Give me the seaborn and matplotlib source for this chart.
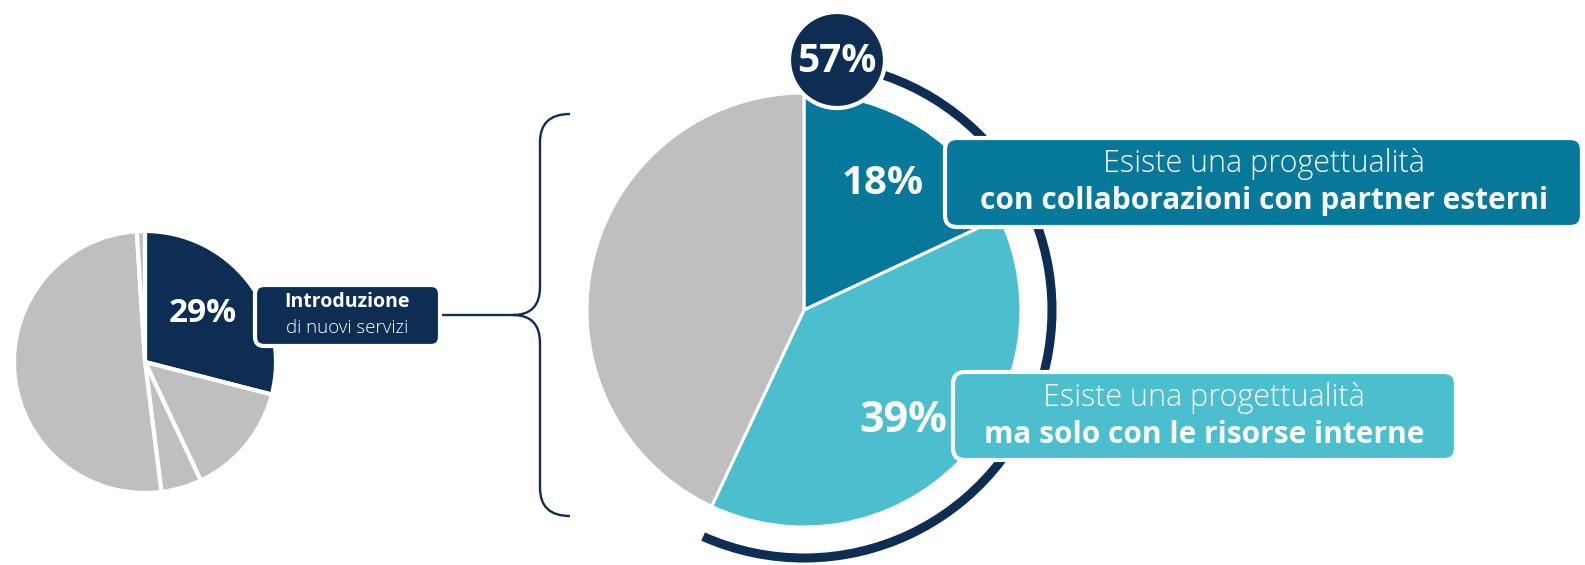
import matplotlib
matplotlib.use("Agg")
import matplotlib.pyplot as plt
import seaborn as sns
from matplotlib.patches import FancyBboxPatch, Circle, Arc, PathPatch
from matplotlib.path import Path

sns.set_theme(style="white")
plt.rcParams['font.family'] = ['Open Sans', 'DejaVu Sans']

# ---- data ----
left_labels = ["Introduzione di nuovi servizi", "Altro A", "Altro B", "Altro C", "Altro D"]
left_values = [29, 14, 5, 51, 1]
right_labels = ["Con partner esterni", "Solo risorse interne", "Altro"]
right_values = [18, 39, 43]
total_label = "57%"
left_pct = "29%"
right_pcts = ["18%", "39%"]
left_box_text = ["Introduzione", "di nuovi servizi"]
box1_text = ["Esiste una progettualità", "con collaborazioni con partner esterni"]
box2_text = ["Esiste una progettualità", "ma solo con le risorse interne"]

NAVY = "#0e2d52"
TEAL = "#06799a"
LIGHT = "#4bbfcd"
GRAY = "#bfbfbf"

W, H = 1585, 565
fig = plt.figure(figsize=(W / 100, H / 100), dpi=100)
ax = fig.add_axes([0, 0, 1, 1])

def Y(y):
    return H - y

# left pie
ax.pie(left_values, colors=[NAVY, GRAY, GRAY, GRAY, GRAY], startangle=90,
       counterclock=False, center=(145, Y(362)), radius=131,
       wedgeprops=dict(edgecolor="white", linewidth=3))

# right pie
rc = (804, Y(310))
ax.pie(right_values, colors=[TEAL, LIGHT, GRAY], startangle=90,
       counterclock=False, center=rc, radius=217,
       wedgeprops=dict(edgecolor="white", linewidth=2.2))

# arc around the 57%
ax.add_patch(Arc(rc, 2 * 248, 2 * 248, theta1=-114, theta2=83,
                 color=NAVY, linewidth=6.5, capstyle="butt", zorder=3))

# brace
bx_top, bx_bot, bx_mid = Y(114), Y(516), Y(315)
xv, xr, xt = 540, 570, 513
r = 28
verts = [
    (xr, bx_top), (xv, bx_top), (xv, bx_top - r),
    (xv, bx_mid + r),
    (xv, bx_mid), (xt, bx_mid),
    (xv, bx_mid), (xv, bx_mid - r),
    (xv, bx_bot + r),
    (xv, bx_bot), (xr, bx_bot),
]
codes = [Path.MOVETO, Path.CURVE3, Path.CURVE3, Path.LINETO,
         Path.CURVE3, Path.CURVE3, Path.CURVE3, Path.CURVE3,
         Path.LINETO, Path.CURVE3, Path.CURVE3]
ax.add_patch(PathPatch(Path(verts, codes), facecolor="none", edgecolor=NAVY,
                       linewidth=1.7, zorder=3))
# connector line
ax.plot([440, xt], [Y(315), Y(315)], color=NAVY, linewidth=1.7, zorder=3)

def box(x0, y0, x1, y1, color, rs=12):
    ax.add_patch(FancyBboxPatch((x0, Y(y1)), x1 - x0, y1 - y0,
                                boxstyle=f"round,pad=0,rounding_size={rs}",
                                facecolor=color, edgecolor="white",
                                linewidth=3, zorder=4))

# left box
box(255, 285, 440, 346, NAVY, rs=9)
ax.text(347, Y(302), left_box_text[0], color="white", fontsize=14,
        fontweight="bold", ha="center", va="center", zorder=5)
ax.text(347, Y(328), left_box_text[1], color="white", fontsize=13.5,
        fontweight="light", ha="center", va="center", zorder=5)
ax.text(203, Y(314), left_pct, color="white", fontsize=24,
        fontweight="bold", ha="center", va="center", zorder=5)

# box 1
box(945, 138, 1582, 227, TEAL)
ax.text(1264, Y(164), box1_text[0], color="white", fontsize=22,
        fontweight="light", ha="center", va="center", zorder=5)
ax.text(1264, Y(201), box1_text[1], color="white", fontsize=21.5,
        fontweight="bold", ha="center", va="center", zorder=5)
ax.text(883, Y(184), right_pcts[0], color="white", fontsize=29,
        fontweight="bold", ha="center", va="center", zorder=5)

# box 2
box(953, 372, 1456, 460, LIGHT)
ax.text(1204, Y(398), box2_text[0], color="white", fontsize=22,
        fontweight="light", ha="center", va="center", zorder=5)
ax.text(1204, Y(435), box2_text[1], color="white", fontsize=21.5,
        fontweight="bold", ha="center", va="center", zorder=5)
ax.text(903, Y(421), right_pcts[1], color="white", fontsize=31,
        fontweight="bold", ha="center", va="center", zorder=5)

# 57% circle
ax.add_patch(Circle((837, Y(60)), 48, facecolor=NAVY, edgecolor="white",
                    linewidth=3, zorder=6))
ax.text(837, Y(61), total_label, color="white", fontsize=28,
        fontweight="bold", ha="center", va="center", zorder=7)

ax.set_xlim(0, W)
ax.set_ylim(0, H)
ax.set_aspect("equal")
ax.axis("off")
fig.savefig("out.png", dpi=100, facecolor="white")
